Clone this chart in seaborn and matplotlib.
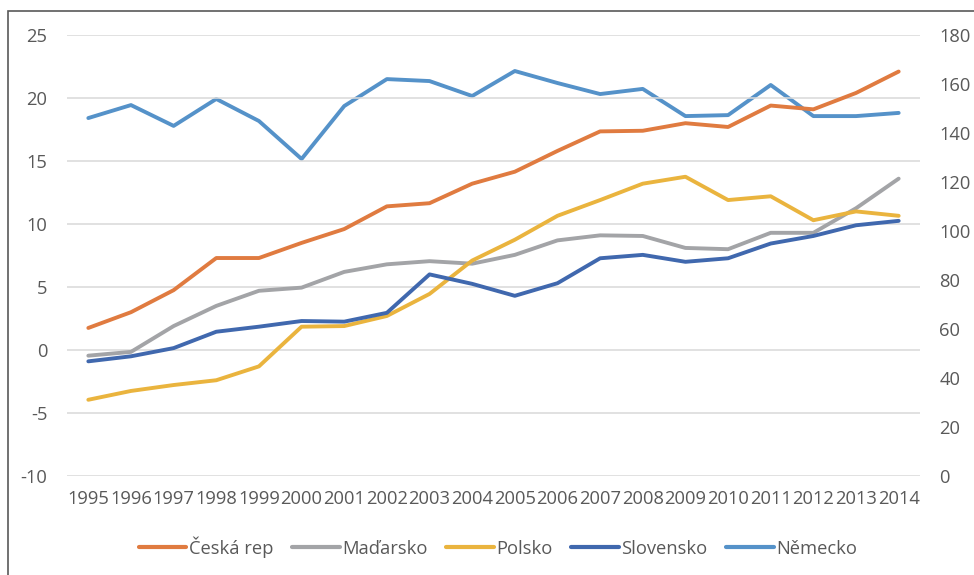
import matplotlib
matplotlib.use("Agg")
import matplotlib.pyplot as plt
from matplotlib.patches import Rectangle
from matplotlib.lines import Line2D
import seaborn as sns
import pandas as pd

years = list(range(1995, 2015))

ceska = [1.75, 3.0, 4.75, 7.3, 7.3, 8.5, 9.6, 11.4, 11.65, 13.2, 14.15, 15.8, 17.35,
         17.4, 18.0, 17.7, 19.4, 19.1, 20.4, 22.1]
madarsko = [-0.45, -0.15, 1.9, 3.5, 4.7, 4.95, 6.2, 6.8, 7.05, 6.85, 7.55, 8.7, 9.1,
            9.05, 8.1, 8.0, 9.3, 9.3, 11.25, 13.6]
polsko = [-3.95, -3.25, -2.78, -2.4, -1.3, 1.85, 1.9, 2.7, 4.45, 7.1, 8.75, 10.65, 11.9,
          13.2, 13.75, 11.9, 12.2, 10.3, 11.0, 10.65]
slovensko = [-0.9, -0.5, 0.15, 1.45, 1.85, 2.3, 2.25, 2.95, 6.0, 5.25, 4.3, 5.3, 7.28,
             7.55, 7.0, 7.28, 8.45, 9.05, 9.9, 10.25]
# Německo is drawn against the right-hand axis
nemecko = [146.1, 151.4, 142.9, 153.9, 144.9, 129.4, 151.0, 162.0, 161.2, 155.1, 165.3,
           160.4, 155.9, 158.0, 146.9, 147.3, 159.6, 146.9, 146.9, 148.2]

names = ["Česká rep", "Maďarsko", "Polsko", "Slovensko", "Německo"]
colors = ["#E07B40", "#A3A4A7", "#EAB43E", "#4068AE", "#5592C9"]
left_ticks = list(range(-10, 30, 5))
right_ticks = list(range(0, 200, 20))

TEXT = "#595959"
FONT = "Open Sans"
FS = 13.2

sns.set_theme(style="white")
plt.rcParams["font.family"] = [FONT, "DejaVu Sans"]
plt.rcParams["axes.unicode_minus"] = False

df = pd.DataFrame({
    "year": years * 4,
    "value": ceska + madarsko + polsko + slovensko,
    "country": sum([[n] * len(years) for n in names[:4]], []),
})
df_de = pd.DataFrame({"year": years, "value": nemecko})

fig = plt.figure(figsize=(9.74, 5.75), dpi=100)
ax = fig.add_axes([67 / 974, 1 - 476 / 575, (920 - 67) / 974, (476 - 35) / 575])
ax2 = ax.twinx()

lw = 2.8
sns.lineplot(data=df_de, x="year", y="value", ax=ax2, color=colors[4], linewidth=lw,
             legend=False)
sns.lineplot(data=df, x="year", y="value", hue="country", hue_order=names[:4],
             palette=colors[:4], ax=ax, linewidth=lw, legend=False)

# left axis drawn above the twin so all its lines sit on top of Německo
ax.set_zorder(ax2.get_zorder() + 1)
ax.patch.set_visible(False)

ax.set_xlim(1994.5, 2014.5)
ax.set_ylim(-10, 25)
ax2.set_ylim(0, 180)
ax.set_xticks(years)
ax.set_xticklabels([str(y) for y in years])
ax.set_yticks(left_ticks)
ax2.set_yticks(right_ticks)
ax.set_xlabel("")
ax.set_ylabel("")
ax2.set_ylabel("")

for a in (ax, ax2):
    for s in a.spines.values():
        s.set_visible(False)
ax.yaxis.grid(True, color="#D9D9D9", linewidth=1.1)
ax.set_axisbelow(True)

ax.tick_params(axis="x", length=0, pad=10, labelsize=FS, labelcolor=TEXT)
ax.tick_params(axis="y", length=0, pad=14, labelsize=FS, labelcolor=TEXT)
ax2.tick_params(axis="y", length=0, pad=14, labelsize=FS, labelcolor=TEXT)

handles = [Line2D([], [], color=c, linewidth=3) for c in colors]
fig.legend(handles, names, loc="center", bbox_to_anchor=(498 / 974, 1 - 547 / 575),
           ncol=5, frameon=False, fontsize=FS, labelcolor=TEXT, handlelength=2.6,
           handletextpad=0.15, columnspacing=1.0)

fig.add_artist(Rectangle((8 / 974, -0.1), 1.2, 1 - 11 / 575 + 0.1,
                         transform=fig.transFigure, fill=False,
                         edgecolor="#595959", linewidth=1.2))

fig.savefig("out.png", dpi=100)
